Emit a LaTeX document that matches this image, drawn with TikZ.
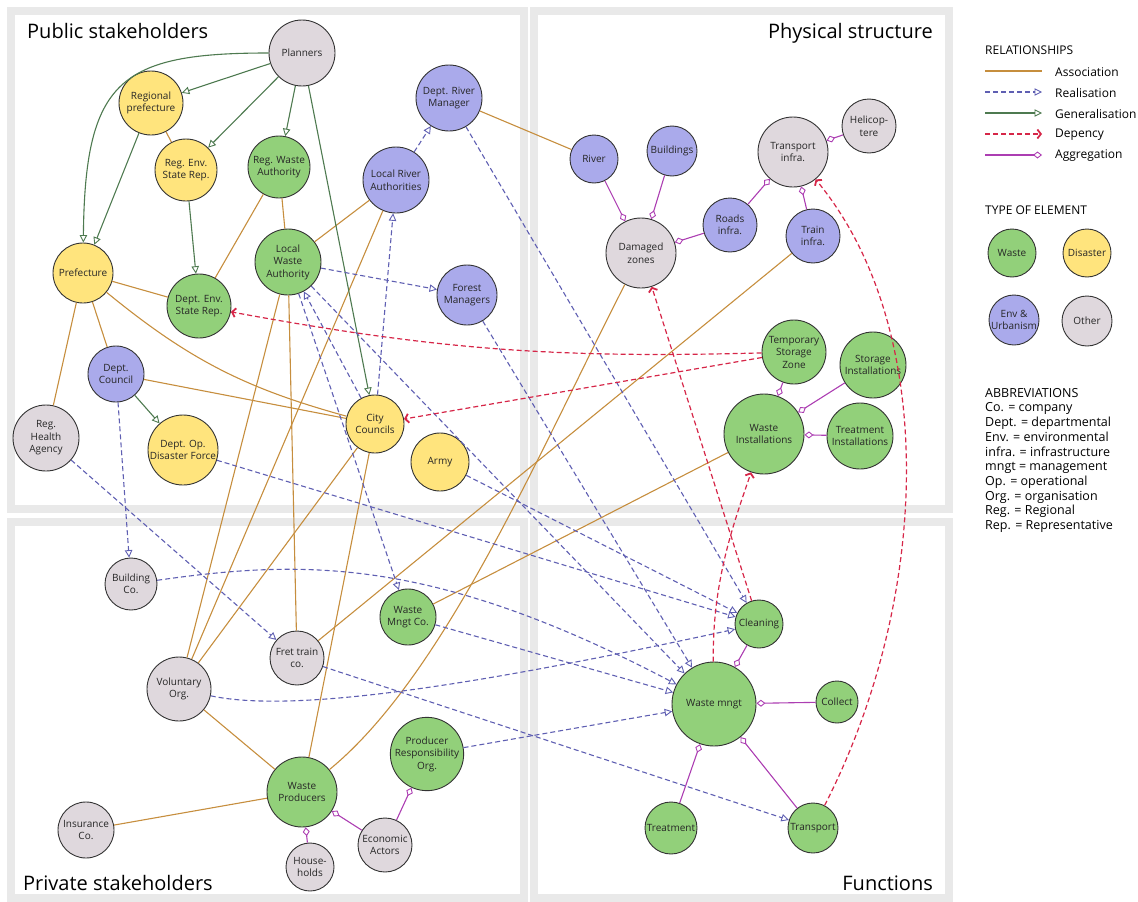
\documentclass[tikz,border=0pt]{standalone}
\usepackage{fontspec}
\setmainfont{Open Sans}
\usetikzlibrary{arrows.meta}
\definecolor{frameGrey}{RGB}{233,233,233}
\definecolor{wasteGreen}{RGB}{146,208,122}
\definecolor{disasterYellow}{RGB}{255,228,125}
\definecolor{envBlue}{RGB}{170,170,235}
\definecolor{otherGrey}{RGB}{223,216,221}
\definecolor{assocBrown}{RGB}{198,142,62}
\definecolor{realBlue}{RGB}{95,95,178}
\definecolor{genGreen}{RGB}{78,122,80}
\definecolor{depRed}{RGB}{214,38,72}
\definecolor{aggPurple}{RGB}{172,62,178}

\tikzset{
  elem/.style={circle, draw=black!80, line width=0.9pt, inner sep=0pt, align=center,
    font=\fontsize{10}{12.5}\selectfont, text=black!85},
  waste/.style={elem, fill=wasteGreen},
  disaster/.style={elem, fill=disasterYellow},
  envurb/.style={elem, fill=envBlue},
  other/.style={elem, fill=otherGrey},
  panel/.style={draw=frameGrey, line width=8pt},
  paneltitle/.style={font=\fontsize{20}{24}\selectfont, inner sep=0pt},
  legtext/.style={font=\fontsize{12}{14}\selectfont, anchor=west, inner sep=0pt},
  assoc/.style={draw=assocBrown, line width=1.1pt},
  realis/.style={draw=realBlue, line width=1.1pt, dash pattern=on 5pt off 3pt,
    -{Triangle[open, length=7.5pt, width=7.5pt, line width=0.9pt]}},
  general/.style={draw=genGreen, line width=1.1pt,
    -{Triangle[open, length=7.5pt, width=7.5pt, line width=0.9pt]}},
  depend/.style={draw=depRed, line width=1.2pt, dash pattern=on 5pt off 3pt,
    -{Straight Barb[length=3.5pt, width=9pt, line width=1.8pt]}},
  aggreg/.style={draw=aggPurple, line width=1.1pt,
    -{Diamond[open, length=9pt, width=7pt, line width=0.9pt]}},
}

\begin{document}
\begin{tikzpicture}[x=1pt, y=-1pt]
  \useasboundingbox (0,0) rectangle (1138,902);

  % the four panels
  \draw[panel] (11,11) rectangle (524,509);
  \draw[panel] (534,11) rectangle (949,509);
  \draw[panel] (11,522) rectangle (524,898);
  \draw[panel] (534,522) rectangle (949,898);
  \node[paneltitle, anchor=base west] (tpublic) at (27,38) {Public stakeholders};
  \node[paneltitle, anchor=base east] (tphysical) at (933,38) {Physical structure};
  \node[paneltitle, anchor=base west] (tprivate) at (23,890) {Private stakeholders};
  \node[paneltitle, anchor=base east] (tfunctions) at (933,890) {Functions};

  % public stakeholders
  \node[other, minimum size=66pt] (planners) at (302,53) {Planners};
  \node[disaster, minimum size=64pt] (regpref) at (151,103) {Regional\\prefecture};
  \node[disaster, minimum size=62pt] (regenv) at (186,170) {Reg. Env.\\State Rep.};
  \node[waste, minimum size=62pt] (regwaste) at (279,167) {Reg. Waste\\Authority};
  \node[envurb, minimum size=66pt] (riverman) at (449,98) {Dept. River\\Manager};
  \node[envurb, minimum size=66pt] (localriver) at (396,180) {Local River\\Authorities};
  \node[waste, minimum size=66pt] (localwaste) at (288,262) {Local\\Waste\\Authority};
  \node[disaster, minimum size=60pt] (pref) at (83,273) {Prefecture};
  \node[waste, minimum size=64pt] (deptenv) at (199,306) {Dept. Env.\\State Rep.};
  \node[envurb, minimum size=60pt] (forest) at (467,295) {Forest\\Managers};
  \node[envurb, minimum size=56pt] (deptcouncil) at (116,374) {Dept.\\Council};
  \node[other, minimum size=66pt] (health) at (46,438) {Reg.\\Health\\Agency};
  \node[disaster, minimum size=70pt] (disforce) at (183,450) {Dept. Op.\\Disaster Force};
  \node[disaster, minimum size=58pt] (city) at (375,424) {City\\Councils};
  \node[disaster, minimum size=58pt] (army) at (440,462) {Army};

  % physical structure
  \node[envurb, minimum size=48pt] (river) at (594,159) {River};
  \node[envurb, minimum size=50pt] (buildings) at (672,151) {Buildings};
  \node[other, minimum size=70pt] (damaged) at (641,253) {Damaged\\zones};
  \node[envurb, minimum size=54pt] (roads) at (730,225) {Roads\\infra.};
  \node[other, minimum size=70pt] (transinfra) at (793,152) {Transport\\infra.};
  \node[other, minimum size=54pt] (heli) at (869,126) {Helicop-\\tere};
  \node[envurb, minimum size=54pt] (train) at (813,236) {Train\\infra.};
  \node[waste, minimum size=64pt] (tempstore) at (794,352) {Temporary\\Storage\\Zone};
  \node[waste, minimum size=66pt] (storeinst) at (873,365) {Storage\\Installations};
  \node[waste, minimum size=80pt] (wasteinst) at (764,434) {Waste\\Installations};
  \node[waste, minimum size=66pt] (treatinst) at (860,436) {Treatment\\Installations};

  % private stakeholders
  \node[other, minimum size=52pt] (buildco) at (131,584) {Building\\Co.};
  \node[waste, minimum size=56pt] (wmco) at (408,617) {Waste\\Mngt Co.};
  \node[other, minimum size=54pt] (fret) at (297,658) {Fret train\\co.};
  \node[other, minimum size=64pt] (voluntary) at (179,689) {Voluntary\\Org.};
  \node[waste, minimum size=68pt] (pro) at (427,754) {Producer\\Responsibility\\Org.};
  \node[waste, minimum size=70pt] (wprod) at (302,792) {Waste\\Producers};
  \node[other, minimum size=56pt] (insurance) at (86,830) {Insurance\\Co.};
  \node[other, minimum size=48pt] (households) at (310,867) {House-\\holds};
  \node[other, minimum size=54pt] (econ) at (385,845) {Economic\\Actors};

  % functions
  \node[waste, minimum size=48pt] (cleaning) at (759,624) {Cleaning};
  \node[waste, minimum size=84pt] (wastemngt) at (714,704) {Waste mngt};
  \node[waste, minimum size=42pt] (collect) at (837,702) {Collect};
  \node[waste, minimum size=52pt] (treatment) at (671,828) {Treatment};
  \node[waste, minimum size=50pt] (transport) at (813,828) {Transport};

  % association
  \draw[assoc] (regpref) -- (regenv);
  \draw[assoc] (regwaste) -- (localwaste);
  \draw[assoc] (regwaste) -- (deptenv);
  \draw[assoc] (localwaste) -- (localriver);
  \draw[assoc] (pref) -- (deptenv);
  \draw[assoc] (pref) to[bend right=12] (city);
  \draw[assoc] (pref) -- (deptcouncil);
  \draw[assoc] (pref) -- (health);
  \draw[assoc] (deptcouncil) -- (city);
  \draw[assoc] (riverman) -- (river);
  \draw[assoc] (localwaste) -- (voluntary);
  \draw[assoc] (localriver) -- (voluntary);
  \draw[assoc] (city) -- (voluntary);
  \draw[assoc] (localwaste) -- (fret);
  \draw[assoc] (city) -- (wprod);
  \draw[assoc] (damaged) .. controls (540,450) and (445,675) .. (wprod);
  \draw[assoc] (train) -- (fret);
  \draw[assoc] (wasteinst) -- (wmco);
  \draw[assoc] (voluntary) -- (wprod);
  \draw[assoc] (insurance) -- (wprod);

  % generalisation
  \draw[general] (planners) -- (regpref);
  \draw[general] (planners) -- (regenv);
  \draw[general] (planners) -- (regwaste);
  \draw[general] (planners) .. controls (120,53) and (85,80) .. (pref);
  \draw[general] (regpref) -- (pref);
  \draw[general] (regenv) -- (deptenv);
  \draw[general] (planners) -- (city);
  \draw[general] (deptcouncil) -- (disforce);

  % realisation
  \draw[realis] (localriver) -- (riverman);
  \draw[realis] (city) -- (localriver);
  \draw[realis] (localwaste) -- (forest);
  \draw[realis] (city) -- (localwaste);
  \draw[realis] (localwaste) -- (wmco);
  \draw[realis] (localwaste) -- (wastemngt);
  \draw[realis] (forest) -- (wastemngt);
  \draw[realis] (riverman) -- (cleaning);
  \draw[realis] (army) -- (cleaning);
  \draw[realis] (disforce) -- (cleaning);
  \draw[realis] (voluntary) .. controls (300,715) and (500,680) .. (cleaning);
  \draw[realis] (buildco) .. controls (300,560) and (430,555) .. (wastemngt);
  \draw[realis] (wmco) -- (wastemngt);
  \draw[realis] (pro) -- (wastemngt);
  \draw[realis] (deptcouncil) -- (buildco);
  \draw[realis] (health) -- (fret);
  \draw[realis] (fret) -- (transport);

  % dependency
  \draw[depend] (tempstore) to[bend left=6] (deptenv);
  \draw[depend] (tempstore) -- (city);
  \draw[depend] (cleaning) -- (damaged);
  \draw[depend] (wastemngt) .. controls (712,580) and (735,520) .. (wasteinst);
  \draw[depend] (transport) .. controls (930,600) and (940,330) .. (transinfra);

  % aggregation
  \draw[aggreg] (river) -- (damaged);
  \draw[aggreg] (buildings) -- (damaged);
  \draw[aggreg] (roads) -- (damaged);
  \draw[aggreg] (roads) -- (transinfra);
  \draw[aggreg] (train) -- (transinfra);
  \draw[aggreg] (heli) -- (transinfra);
  \draw[aggreg] (tempstore) -- (wasteinst);
  \draw[aggreg] (storeinst) -- (wasteinst);
  \draw[aggreg] (treatinst) -- (wasteinst);
  \draw[aggreg] (cleaning) -- (wastemngt);
  \draw[aggreg] (collect) -- (wastemngt);
  \draw[aggreg] (treatment) -- (wastemngt);
  \draw[aggreg] (transport) -- (wastemngt);
  \draw[aggreg] (households) -- (wprod);
  \draw[aggreg] (econ) -- (wprod);
  \draw[aggreg] (econ) -- (pro);

  % legend
  \node[legtext] (lrel) at (985,50) {RELATIONSHIPS};
  \coordinate (la1) at (985,71);  \coordinate (la2) at (1042,71);
  \coordinate (lr1) at (985,92);  \coordinate (lr2) at (1042,92);
  \coordinate (lg1) at (985,113); \coordinate (lg2) at (1042,113);
  \coordinate (ld1) at (985,134); \coordinate (ld2) at (1042,134);
  \coordinate (lp1) at (985,155); \coordinate (lp2) at (1042,155);
  \draw[assoc] (la1) -- (la2);
  \draw[realis] (lr1) -- (lr2);
  \draw[general] (lg1) -- (lg2);
  \draw[depend] (ld1) -- (ld2);
  \draw[aggreg] (lp1) -- (lp2);
  \node[legtext] (lassoc) at (1055,72) {Association};
  \node[legtext] (lreal) at (1055,93) {Realisation};
  \node[legtext] (lgen) at (1055,114) {Generalisation};
  \node[legtext] (ldep) at (1055,135) {Depency};
  \node[legtext] (lagg) at (1055,156) {Aggregation};

  \node[legtext] (ltype) at (985,210) {TYPE OF ELEMENT};
  \node[waste, minimum size=48pt] (kwaste) at (1012,253) {Waste};
  \node[disaster, minimum size=48pt] (kdisaster) at (1087,253) {Disaster};
  \node[envurb, minimum size=50pt] (kenv) at (1014,320) {Env \&\\Urbanism};
  \node[other, minimum size=50pt] (kother) at (1087,321) {Other};

  \node[legtext, anchor=north west, align=left, font=\fontsize{12.5}{14.7}\selectfont] (labbr) at (985,388)
    {ABBREVIATIONS\\Co. = company\\Dept. = departmental\\Env. = environmental\\infra. = infrastructure\\mngt = management\\Op. = operational\\Org. = organisation\\Reg. = Regional\\Rep. = Representative};
\end{tikzpicture}
\end{document}
